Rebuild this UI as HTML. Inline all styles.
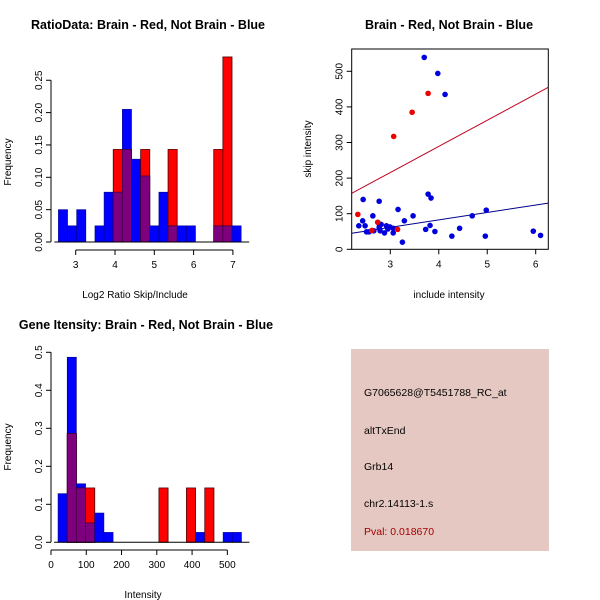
<!DOCTYPE html>
<html><head><meta charset="utf-8"><style>
body{margin:0;background:#fff}
svg{display:block;font-family:"Liberation Sans",sans-serif}
</style></head><body>
<svg id="c" width="600" height="600" viewBox="0 0 600 600">
<rect width="600" height="600" fill="#fff"/>
<text x="148" y="29" font-size="12.5" font-weight="bold" text-anchor="middle">RatioData: Brain - Red, Not Brain - Blue</text>
<text x="135" y="298" font-size="10" text-anchor="middle">Log2 Ratio Skip/Include</text>
<text transform="translate(11,162) rotate(-90)" font-size="10" text-anchor="middle">Frequency</text>
<text x="449" y="29" font-size="12.5" font-weight="bold" text-anchor="middle">Brain - Red, Not Brain - Blue</text>
<text x="449" y="298" font-size="10" text-anchor="middle">include intensity</text>
<text transform="translate(311,149) rotate(-90)" font-size="10" text-anchor="middle">skip intensity</text>
<text x="146" y="329" font-size="12.5" font-weight="bold" text-anchor="middle">Gene Itensity: Brain - Red, Not Brain - Blue</text>
<text x="143" y="598" font-size="10" text-anchor="middle">Intensity</text>
<text transform="translate(11,447) rotate(-90)" font-size="10" text-anchor="middle">Frequency</text>
<g>
<rect x="351" y="349" width="198" height="202" fill="#e6c8c2"/>
<text x="364" y="396" font-size="10.5">G7065628@T5451788_RC_at</text>
<text x="364" y="434" font-size="10.5">altTxEnd</text>
<text x="364" y="470" font-size="10.5">Grb14</text>
<text x="364" y="507" font-size="10.5">chr2.14113-1.s</text>
<text x="364" y="535" font-size="10.5" fill="#a00000">Pval: 0.018670</text>
</g>
<g id="g1"></g><g id="g2"></g><g id="g3"></g>
</svg>
<script>
// Ratio histogram data
const ratioBinStart = 2.56, ratioBinWidth = 0.2325;
const ratioBlue = [0.05,0.025,0.05,0,0.025,0.077,0.077,0.205,0.128,0.102,0.025,0.077,0.025,0.025,0.025,0,0,0.025,0.025,0.025];
const ratioRed  = [0,0,0,0,0,0,0.143,0.143,0,0.143,0,0,0.143,0,0,0,0,0.143,0.286,0];
const ratioXTicks = [3,4,5,6,7];
const ratioYTicks = ["0.00","0.05","0.10","0.15","0.20","0.25"];
// Intensity histogram data
const intBinStart = 20, intBinWidth = 26;
const intBlue = [0.128,0.487,0.154,0.051,0.077,0.026,0,0,0,0,0,0,0,0,0,0.026,0,0,0.026,0.026];
const intRed  = [0,0.286,0.143,0.143,0,0,0,0,0,0,0,0.143,0,0,0.143,0,0.143,0,0,0];
const intXTicks = [0,100,200,300,400,500];
const intYTicks = ["0.0","0.1","0.2","0.3","0.4","0.5"];
// Scatter data
const blueX = [3.70,3.98,4.13,3.78,3.84,2.44,2.77,3.16,4.98,4.69,3.47,2.64,2.43,3.29,2.35,2.48,2.77,2.81,2.92,2.99,2.95,3.06,2.77,2.79,2.66,2.88,3.06,2.51,2.56,3.82,3.73,3.92,4.43,4.27,4.96,3.25,5.95,6.10];
const blueY = [539,494,435,155,144,140,135,112,110,94,94,94,80,80,66,66,71,70,66,63,57,59,61,52,52,46,46,49,49,67,56,50,59,37,37,20,51,39];
const redX = [3.78,3.45,3.07,2.33,2.74,3.15,2.62];
const redY = [438,385,317,98,76,56,53];
const redFit = [-4.5,73.4];   // intercept, slope
const blueFit = [-1,20.9];
const scXTicks = [3,4,5,6];
const scYTicks = [0,100,200,300,400,500];

const NS="http://www.w3.org/2000/svg";
function mk(p,tag,attrs){const e=document.createElementNS(NS,tag);for(const k in attrs)e.setAttribute(k,attrs[k]);p.appendChild(e);return e;}

function hist(g,o){
  const sx=v=>o.x0+(v-o.xv0)*o.kx, sy=v=>o.y0-v*o.ky;
  for(let i=0;i<o.blue.length;i++){
    const a=sx(o.bs+i*o.bw), b=sx(o.bs+(i+1)*o.bw);
    const bl=o.blue[i], rd=o.red[i], mn=Math.min(bl,rd);
    if(bl>0){const r=mk(g,'rect',{x:a,y:sy(bl),width:b-a,height:o.y0-sy(bl),fill:'#0000ff',stroke:'#00008b','stroke-width':0.6});
      
      }
    if(rd>0){const r=mk(g,'rect',{x:a,y:sy(rd),width:b-a,height:o.y0-sy(rd),fill:'#ff0000',stroke:'#500000','stroke-width':0.8});
      
      }
    if(mn>0){const r=mk(g,'rect',{x:a,y:sy(mn),width:b-a,height:o.y0-sy(mn),fill:'#7f007f',stroke:'#400040','stroke-width':0.8});
      
      }
  }
  mk(g,'line',{x1:sx(o.bs)-4,x2:sx(o.bs+o.blue.length*o.bw)+8,y1:o.y0,y2:o.y0,stroke:'#000'});
  const xa=o.xt[0], xb=o.xt[o.xt.length-1];
  mk(g,'line',{x1:sx(xa),x2:sx(xb),y1:o.xay,y2:o.xay,stroke:'#000'});
  o.xt.forEach(t=>{mk(g,'line',{x1:sx(t),x2:sx(t),y1:o.xay,y2:o.xay+5,stroke:'#000'});
    const tx=mk(g,'text',{x:sx(t),y:o.xay+18,'font-size':10,'text-anchor':'middle'});tx.textContent=t;
    
    });
  const yv=o.yt.map(Number);
  mk(g,'line',{x1:o.yax,x2:o.yax,y1:sy(yv[0]),y2:sy(yv[yv.length-1]),stroke:'#000'});
  o.yt.forEach(t=>{const y=sy(Number(t));mk(g,'line',{x1:o.yax-5,x2:o.yax,y1:y,y2:y,stroke:'#000'});
    const tx=mk(g,'text',{transform:`translate(${o.yax-9},${y}) rotate(-90)`,'font-size':10,'text-anchor':'middle'});tx.textContent=t;
    
    });
}
const g1=document.getElementById('g1');


hist(g1,{x0:75.7,xv0:3,kx:39.3,y0:242,ky:647,bs:ratioBinStart,bw:ratioBinWidth,blue:ratioBlue,red:ratioRed,xt:ratioXTicks,yt:ratioYTicks,xay:250,yax:51});
const g3=document.getElementById('g3');


hist(g3,{x0:51,xv0:0,kx:0.3527,y0:542.3,ky:380,bs:intBinStart,bw:intBinWidth,blue:intBlue,red:intRed,xt:intXTicks,yt:intYTicks,xay:550,yax:51});

const g2=document.getElementById('g2');


const L=351.7,R=548.3,T=49,B=249.3;
const sx=v=>390.3+(v-3)*48.47, sy=v=>249.3-v*0.356;
const cp=mk(document.getElementById('c'),'clipPath',{id:'cl'});mk(cp,'rect',{x:L,y:T,width:R-L,height:B-T});
const xv0=(L-390.3)/48.47+3, xv1=(R-390.3)/48.47+3;
[[redFit,'#c00020'],[blueFit,'#00008b']].forEach(([f,c])=>{
  const l=mk(g2,'line',{x1:L,x2:R,y1:sy(f[0]+f[1]*xv0),y2:sy(f[0]+f[1]*xv1),stroke:c,'stroke-width':1,'clip-path':'url(#cl)'});
  
  
});
blueX.forEach((x,i)=>{const c=mk(g2,'circle',{cx:sx(x),cy:sy(blueY[i]),r:2.8,fill:'#0000dd'});
  
  });
redX.forEach((x,i)=>{const c=mk(g2,'circle',{cx:sx(x),cy:sy(redY[i]),r:2.8,fill:'#ee0000'});
  
  });
mk(g2,'rect',{x:L,y:T,width:R-L,height:B-T,fill:'none',stroke:'#000'});
scXTicks.forEach(t=>{mk(g2,'line',{x1:sx(t),x2:sx(t),y1:B,y2:B+5,stroke:'#000'});
  const tx=mk(g2,'text',{x:sx(t),y:B+18,'font-size':10,'text-anchor':'middle'});tx.textContent=t;
  
  });
scYTicks.forEach(t=>{const y=sy(t);mk(g2,'line',{x1:L-5,x2:L,y1:y,y2:y,stroke:'#000'});
  const tx=mk(g2,'text',{transform:`translate(${L-9},${y}) rotate(-90)`,'font-size':10,'text-anchor':'middle'});tx.textContent=t;
  
  });
</script>
</body></html>
